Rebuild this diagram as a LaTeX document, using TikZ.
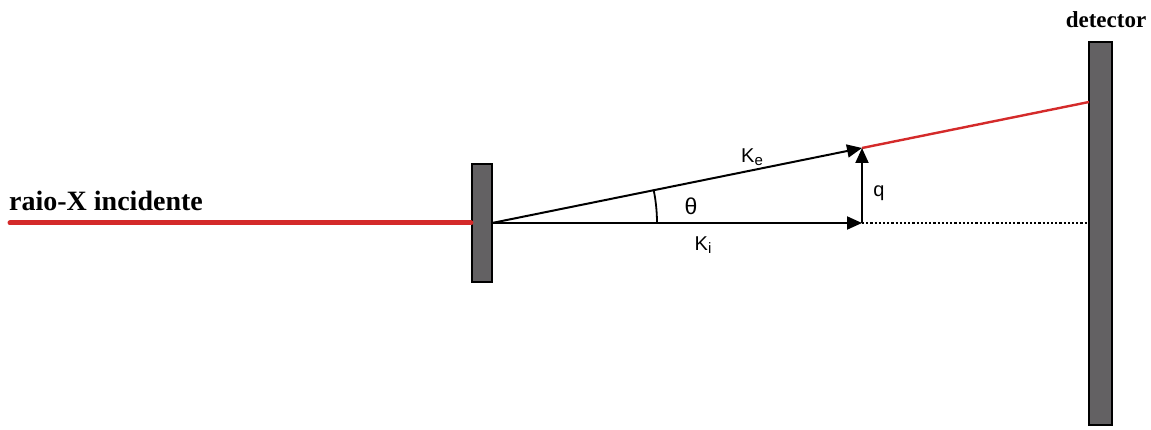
\documentclass[tikz,border=0pt]{standalone}
\usepackage{fontspec}
\setmainfont{Liberation Serif}
\newfontfamily\lblfont{Liberation Sans}
\usetikzlibrary{arrows.meta}
\definecolor{plate}{HTML}{636163}
\definecolor{ray}{HTML}{D42A2A}
\begin{document}
\begin{tikzpicture}[x=1pt,y=-1pt,
  platebox/.style={draw=black,line width=2pt,fill=plate},
  vec/.style={draw=black,line width=2pt,-{Triangle[length=15pt,width=13pt]}},
  lbl/.style={font=\lblfont\fontsize{20}{20}\selectfont,inner sep=0pt},
  title/.style={font=\bfseries\fontsize{28}{28}\selectfont,inner sep=0pt}]
\useasboundingbox (0,0) rectangle (1151,430);
\coordinate (src) at (10,223);
\node[platebox,minimum width=20pt,minimum height=118pt,inner sep=0pt] (sample) at (482,223) {};
\node[platebox,minimum width=23pt,minimum height=383pt,inner sep=0pt] (det) at (1100.5,233.5) {};
\coordinate (o) at (492,223);
\coordinate (ki) at (862,223);
\coordinate (ke) at (862,148);
\coordinate (hit) at (1089,102);
\coordinate (dhit) at (1089,223);
\draw[ray,line width=5pt,line cap=round] (src) -- (sample.west);
\draw[ray,line width=2.4pt] (ke) -- (hit);
\draw[black,line width=2.2pt,dotted] (ki) -- (dhit);
\draw[black,line width=1.8pt] (o) ++(0:165) arc[start angle=0,end angle=-11.46,radius=165];
\draw[vec] (o) -- (ki);
\draw[vec] (o) -- (ke);
\draw[vec] (ki) -- (ke);
\node[lbl,font=\lblfont\fontsize{23}{23}\selectfont] (theta) at (691,206) {θ};
\node[lbl] (kel) at (752,157) {K\raisebox{-0.12em}{\fontsize{15}{15}\selectfont e}};
\node[lbl] (kil) at (703,245) {K\raisebox{-0.12em}{\fontsize{15}{15}\selectfont i}};
\node[lbl] (ql) at (879,193) {q};
\node[title,anchor=west] (inc) at (9,201) {raio-X incidente};
\node[title,font=\bfseries\fontsize{23}{23}\selectfont] (detl) at (1106,20) {detector};
\end{tikzpicture}
\end{document}
